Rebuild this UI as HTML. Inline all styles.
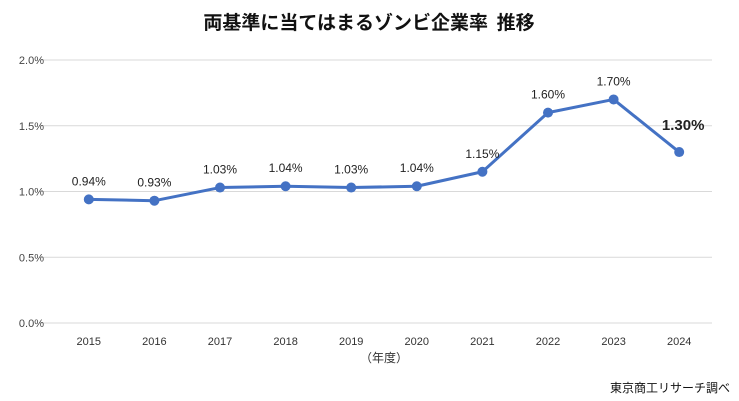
<!DOCTYPE html>
<html><head><meta charset="utf-8"><style>
html,body{margin:0;padding:0;background:#fff;}
svg{display:block;font-family:"Liberation Sans","Noto Sans CJK JP",sans-serif;}
</style></head><body>
<svg id="chart" width="739" height="401" viewBox="0 0 739 401" xmlns="http://www.w3.org/2000/svg">
<text x="369" y="29" text-anchor="middle" font-size="19" font-weight="bold" fill="#111" font-family="'Noto Sans CJK JP',sans-serif">両基準に当てはまるゾンビ企業率&#160;&#160;推移</text>
<g id="grid"></g>
<g id="xlabels"></g>
<text x="384" y="362" text-anchor="middle" font-size="12" fill="#333">（年度）</text>
<path id="line" fill="none" stroke="#4472C4" stroke-width="3" stroke-linejoin="round"/>
<g id="pts"></g>
<text x="730" y="392" text-anchor="end" font-size="12" fill="#111">東京商工リサーチ調べ</text>
</svg>
<script>
const years=["2015","2016","2017","2018","2019","2020","2021","2022","2023","2024"];
const rates=[0.94,0.93,1.03,1.04,1.03,1.04,1.15,1.60,1.70,1.30];
const valueLabels=["0.94%","0.93%","1.03%","1.04%","1.03%","1.04%","1.15%","1.60%","1.70%","1.30%"];
const yTicks=[0,0.5,1.0,1.5,2.0];
const yTickLabels=["0.0%","0.5%","1.0%","1.5%","2.0%"];
const NS="http://www.w3.org/2000/svg";
const x0=56,x1=712,y0=323,y1=60;
const xs=i=>x0+(i+0.5)*(x1-x0)/years.length;
const ys=v=>y0-(v/2.0)*(y0-y1);
const grid=document.getElementById('grid');
yTicks.forEach((t,i)=>{
 const l=document.createElementNS(NS,'line');
 
 
 l.setAttribute('x1',40);l.setAttribute('x2',712);l.setAttribute('y1',ys(t));l.setAttribute('y2',ys(t));
 l.setAttribute('stroke','#d9d9d9');l.setAttribute('stroke-width','1');
 grid.appendChild(l);
 const tx=document.createElementNS(NS,'text');
 
 
 tx.setAttribute('x',44);tx.setAttribute('y',ys(t)+4);tx.setAttribute('text-anchor','end');
 tx.setAttribute('font-size','11');tx.setAttribute('fill','#444');
 tx.textContent=yTickLabels[i];grid.appendChild(tx);
});
const xl=document.getElementById('xlabels');
years.forEach((y,i)=>{
 const tx=document.createElementNS(NS,'text');
 
 
 tx.setAttribute('x',xs(i));tx.setAttribute('y',345);tx.setAttribute('text-anchor','middle');
 tx.setAttribute('font-size','11');tx.setAttribute('fill','#333');
 tx.textContent=y;xl.appendChild(tx);
});
document.getElementById('line').setAttribute('d',rates.map((v,i)=>(i?'L':'M')+xs(i)+','+ys(v)).join(' '));
const pts=document.getElementById('pts');
rates.forEach((v,i)=>{
 const c=document.createElementNS(NS,'circle');
 
 
 c.setAttribute('cx',xs(i));c.setAttribute('cy',ys(v));c.setAttribute('r',5);c.setAttribute('fill','#4472C4');
 pts.appendChild(c);
 const t=document.createElementNS(NS,'text');
 
 
 const last=i===rates.length-1;
 t.setAttribute('x',xs(i)+(last?4:0));t.setAttribute('y',ys(v)-(last?22:14));t.setAttribute('text-anchor','middle');
 t.setAttribute('font-size',last?'15':'12');t.setAttribute('fill','#222');
 if(last)t.setAttribute('font-weight','bold');
 t.textContent=valueLabels[i];pts.appendChild(t);
});
</script>
</body></html>
